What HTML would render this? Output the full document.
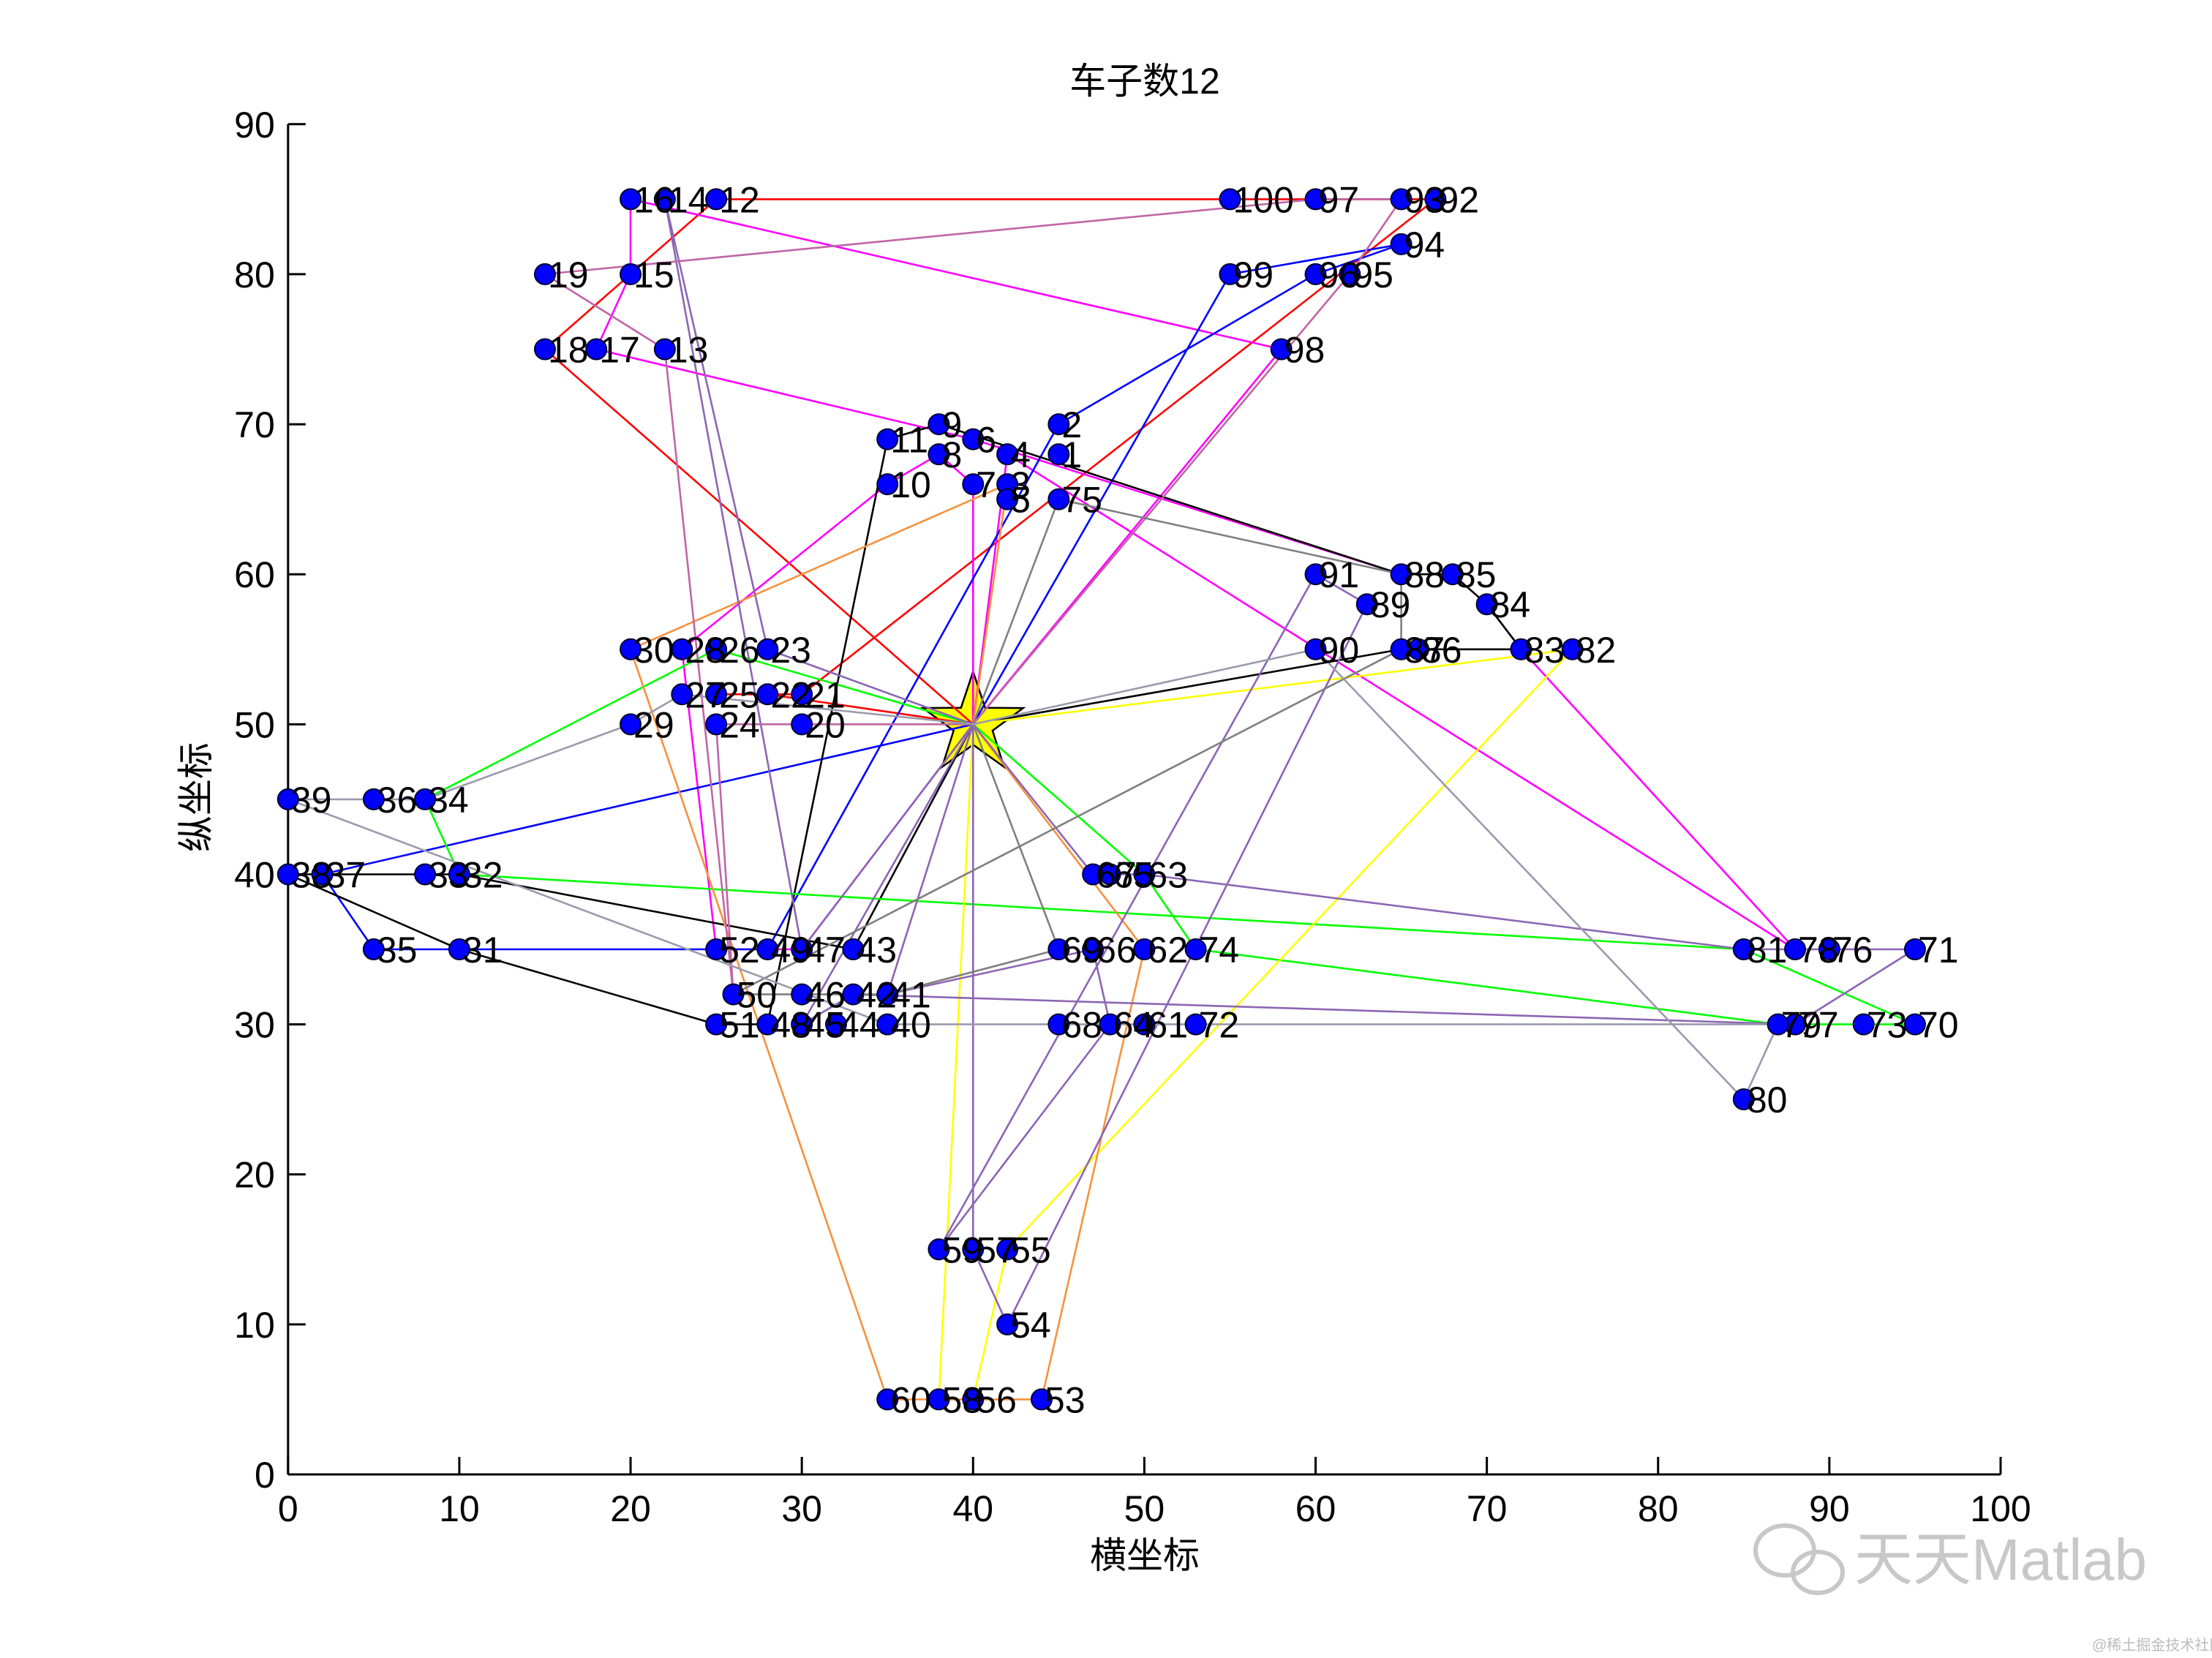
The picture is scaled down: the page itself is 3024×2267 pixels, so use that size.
<!DOCTYPE html>
<html><head><meta charset="utf-8"><style>
html,body{margin:0;padding:0;background:#fff;width:3024px;height:2267px;overflow:hidden}
svg{display:block}
text{font-family:"Liberation Sans","Noto Sans CJK SC",sans-serif}
</style></head><body>
<svg id="chart" width="3024" height="2267" viewBox="0 0 3024 2267" xmlns="http://www.w3.org/2000/svg">
<text x="1565" y="128" font-size="50" text-anchor="middle">车子数12</text>
<g id="axes"></g>
<g id="star-layer"></g>
<g id="routes"></g>
<g id="points"></g>
<g id="labels"></g>
<text x="1565" y="2144" font-size="50" text-anchor="middle">横坐标</text>
<text transform="translate(285,1090) rotate(-90)" font-size="50" text-anchor="middle">纵坐标</text>
<g fill="none" stroke="#c8c8c8" stroke-width="6">
<ellipse cx="2440" cy="2120" rx="40" ry="34"/>
<ellipse cx="2485" cy="2150" rx="34" ry="28"/>
</g>
<text x="2535" y="2160" font-size="80" fill="#c8c8c8">天天Matlab</text>
<text x="2860" y="2256" font-size="20" fill="#bbbbbb">@稀土掘金技术社区</text>
</svg>
<script>
const xTicks=[0,10,20,30,40,50,60,70,80,90,100];
const yTicks=[0,10,20,30,40,50,60,70,80,90];
const depot=[40,50];
const custX=[45,45,42,42,42,40,40,38,38,35,35,25,22,22,20,20,18,15,15,30,30,28,28,25,25,25,23,23,20,20,10,10,8,8,5,5,2,0,0,35,35,33,33,32,30,30,30,28,28,26,25,25,44,42,42,40,40,38,38,35,50,50,50,48,48,47,47,45,45,95,95,53,92,53,45,90,88,88,87,85,85,75,72,70,68,66,65,65,63,60,60,67,65,65,62,60,60,58,55,55];
const custY=[68,70,66,68,65,69,66,68,70,66,69,85,75,85,80,85,75,75,80,50,52,52,55,50,52,55,52,55,50,55,35,40,40,45,35,45,40,40,45,30,32,32,35,30,30,32,35,30,35,32,30,35,5,10,15,5,15,5,15,5,30,35,40,30,40,35,40,30,35,30,35,30,30,35,65,35,30,35,30,25,35,55,55,58,60,55,55,60,58,55,60,85,85,82,80,80,85,75,80,85];
const routeRed=[0,18,15,12,100,97,93,92,21,25,22,0];
const routeMagentaA=[0,98,16,15,17,6,88,85,84,83,78,4,0];
const routeMagentaB=[0,7,8,10,28,52,47,0];
const routeBlue=[0,37,35,31,49,2,96,94,99,0];
const routeBlack=[0,87,86,83,84,85,88,9,11,48,51,31,38,33,32,43,0];
const routeGreen=[0,26,34,32,81,70,73,79,74,63,0];
const routeYellowA=[0,82,55,56,58,0];
const routeYellowB=[0,20,0];
const routeOrange=[0,3,30,60,58,56,53,62,0];
const routePurpleA=[0,57,54,89,91,59,64,66,41,0];
const routePurpleB=[0,67,65,63,81,78,76,71,77,42,45,0];
const routePurpleC=[0,23,14,47,0];
const routeMauve=[0,95,93,97,19,13,50,24,20,0];
const routeGrayA=[0,75,88,87,50,41,69,0];
const routeGrayB=[0,90,80,79,40,39,36,34,29,27,0];
const routes=[[routeRed,'#ff0000'],[routeMagentaA,'#ff00ff'],[routeMagentaB,'#ff00ff'],[routeBlue,'#0000ff'],[routeBlack,'#000000'],[routeGreen,'#00ff00'],[routeYellowA,'#ffff00'],[routeYellowB,'#ffff00'],[routeOrange,'#f7913d'],[routePurpleA,'#8c66b4'],[routePurpleB,'#8c66b4'],[routePurpleC,'#8c66b4'],[routeMauve,'#c066a6'],[routeGrayA,'#808080'],[routeGrayB,'#9a9aac']];
const NS='http://www.w3.org/2000/svg';
const X0=393.8,X1=2735,Y0=2016,Y1=169.8;
function sx(v){return X0+(X1-X0)*v/100;}
function sy(v){return Y0-(Y0-Y1)*v/90;}
function mk(tag,attrs,parent){const e=document.createElementNS(NS,tag);for(const k in attrs)e.setAttribute(k,attrs[k]);parent.appendChild(e);return e;}
const axes=document.getElementById('axes');
let ax=mk('line',{x1:X0,y1:Y0,x2:X1,y2:Y0,stroke:'#000','stroke-width':3},axes);


let ay=mk('line',{x1:X0,y1:Y0,x2:X0,y2:Y1,stroke:'#000','stroke-width':3},axes);


xTicks.forEach(t=>{
 const l=mk('line',{x1:sx(t),y1:Y0,x2:sx(t),y2:Y0-24,stroke:'#000','stroke-width':3},axes);
 
 
 const tx=mk('text',{x:sx(t),y:Y0+64,'font-size':50,'text-anchor':'middle'},axes);
 tx.textContent=t;
 
 
});
yTicks.forEach(t=>{
 const l=mk('line',{x1:X0,y1:sy(t),x2:X0+24,y2:sy(t),stroke:'#000','stroke-width':3},axes);
 
 
 const tx=mk('text',{x:X0-18,y:sy(t)+18,'font-size':50,'text-anchor':'end'},axes);
 tx.textContent=t;
 
 
});
const sl=document.getElementById('star-layer');
const cx=sx(depot[0]),cy=sy(depot[1]);let pts=[];
for(let i=0;i<10;i++){const r=i%2?28:72;const a=-Math.PI/2+i*Math.PI/5;pts.push((cx+r*Math.cos(a)).toFixed(1)+','+(cy+r*Math.sin(a)).toFixed(1));}
const star=mk('polygon',{points:pts.join(' '),fill:'#ffff00',stroke:'#000','stroke-width':2.5},sl);


function px(i){return i===0?[sx(depot[0]),sy(depot[1])]:[sx(custX[i-1]),sy(custY[i-1])];}
const rg=document.getElementById('routes');
routes.forEach((r,ri)=>{
 const p=r[0].map(i=>px(i).map(v=>v.toFixed(1)).join(',')).join(' ');
 const pl=mk('polyline',{points:p,fill:'none',stroke:r[1],'stroke-width':2.6},rg);
 
 
});
const pg=document.getElementById('points'),lg=document.getElementById('labels');
for(let i=1;i<=100;i++){
 const [x,y]=px(i);
 const c=mk('circle',{cx:x,cy:y,r:14,fill:'#0000ff',stroke:'#000033','stroke-width':2},pg);
 
 
 const t=mk('text',{x:x+4,y:y+18,'font-size':50},lg);
 t.textContent=i;
 
 
}
</script>
</body></html>
